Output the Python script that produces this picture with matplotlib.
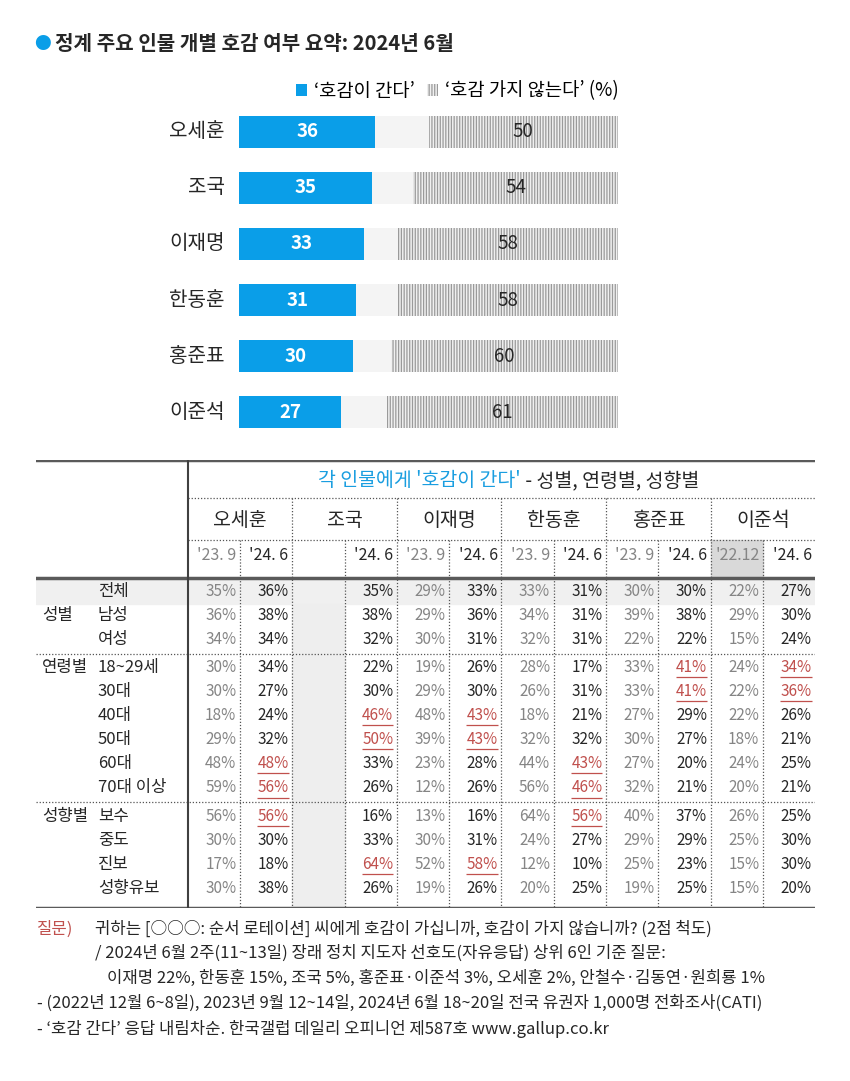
import matplotlib.pyplot as plt
from matplotlib.patches import Rectangle

plt.rcParams['font.family'] = ['Noto Sans CJK KR', 'DejaVu Sans']

W, H = 850, 1081

# 막대 그래프 데이터
names = ['오세훈', '조국', '이재명', '한동훈', '홍준표', '이준석']
like = [36, 35, 33, 31, 30, 27]
dislike = [50, 54, 58, 58, 60, 61]

# 표 데이터
col_dates = ["'23. 9", "'24. 6", "", "'24. 6", "'23. 9", "'24. 6",
             "'23. 9", "'24. 6", "'23. 9", "'24. 6", "'22.12", "'24. 6"]
col_recent = [False, True, False, True, False, True, False, True, False, True, False, True]
row_groups = ['', '성별', '', '연령별', '', '', '', '', '', '성향별', '', '', '']
row_labels = ['전체', '남성', '여성', '18~29세', '30대', '40대', '50대', '60대', '70대 이상',
              '보수', '중도', '진보', '성향유보']
row_block = [0, 0, 0, 1, 1, 1, 1, 1, 1, 2, 2, 2, 2]
table_vals = [
    [35, 36, None, 35, 29, 33, 33, 31, 30, 30, 22, 27],
    [36, 38, None, 38, 29, 36, 34, 31, 39, 38, 29, 30],
    [34, 34, None, 32, 30, 31, 32, 31, 22, 22, 15, 24],
    [30, 34, None, 22, 19, 26, 28, 17, 33, 41, 24, 34],
    [30, 27, None, 30, 29, 30, 26, 31, 33, 41, 22, 36],
    [18, 24, None, 46, 48, 43, 18, 21, 27, 29, 22, 26],
    [29, 32, None, 50, 39, 43, 32, 32, 30, 27, 18, 21],
    [48, 48, None, 33, 23, 28, 44, 43, 27, 20, 24, 25],
    [59, 56, None, 26, 12, 26, 56, 46, 32, 21, 20, 21],
    [56, 56, None, 16, 13, 16, 64, 56, 40, 37, 26, 25],
    [30, 30, None, 33, 30, 31, 24, 27, 29, 29, 25, 30],
    [17, 18, None, 64, 52, 58, 12, 10, 25, 23, 15, 30],
    [30, 38, None, 26, 19, 26, 20, 25, 19, 25, 15, 20],
]
highlight = [(3, 9), (3, 11), (4, 9), (4, 11), (5, 3), (5, 5), (6, 3), (6, 5),
             (7, 1), (7, 7), (8, 1), (8, 7), (9, 1), (9, 7), (11, 3), (11, 5)]

BLUE = '#0a9ee8'
DARK = '#262626'
GRAY = '#858585'
RED = '#c0504d'

plt.rcParams['hatch.linewidth'] = 0.9

fig = plt.figure(figsize=(W / 100, H / 100), dpi=100, facecolor='white')


def px_axes(left, top, right, bottom):
    return fig.add_axes([left / W, 1 - bottom / H, (right - left) / W, (bottom - top) / H])


# 제목
fig.text(42 / W, 1 - 44 / H, '●', color=BLUE, fontsize=12, ha='center', va='center')
fig.text(55 / W, 1 - 44 / H, '정계 주요 인물 개별 호감 여부 요약: 2024년 6월',
         fontsize=14.5, fontweight='bold', color=DARK, va='center')

# 막대 그래프
ax = px_axes(239, 104, 618, 440)
ypos = list(range(len(names)))
ax.barh(ypos, [100] * len(names), height=0.56, color='#f4f4f4')
b1 = ax.barh(ypos, like, height=0.56, color=BLUE, label="‘호감이 간다’")
b2 = ax.barh(ypos, dislike, left=[100 - d for d in dislike], height=0.56, color='#f0f0f0',
             edgecolor='#9a9a9a', hatch='||||||', linewidth=0, label="‘호감 가지 않는다’ (%)")
for i, (n, l, d) in enumerate(zip(names, like, dislike)):
    ax.text(-3.7, i, n, ha='right', va='center', fontsize=14.5, color=DARK)
    ax.text(l / 2, i, str(l), ha='center', va='center', fontsize=13.5, color='white', fontweight='bold')
    ax.text(100 - d / 2, i, str(d), ha='center', va='center', fontsize=13.5, color=DARK)
ax.set_xlim(0, 100)
ax.set_ylim(len(names) - 0.5, -0.5)
ax.axis('off')

fig.legend(handles=[b1, b2], loc='center right', bbox_to_anchor=(619 / W, 1 - 91 / H),
           ncol=2, frameon=False, fontsize=13.5, handlelength=0.6, handleheight=0.6,
           handletextpad=0.4, columnspacing=0.6, borderpad=0, borderaxespad=0)

# 표
tx = px_axes(36, 460.5, 815.3, 908)
tx.set_xlim(-2.9, 12)
tx.set_ylim(13.17, -5.46)
tx.axis('off')

ncol = len(col_dates)
ry = [r + 0.17 * b for r, b in enumerate(row_block)]
y_top, y_title, y_sep1, y_name, y_sep2, y_date, y_head = -5.46, -4.63, -3.88, -2.96, -2.17, -1.5, -0.58
y_bot = ry[-1] + 0.83
dot = (0, (1, 1.5))

# 음영
tx.axhspan(y_head, (ry[0] + ry[1]) / 2, color='#f0f0f0', zorder=0)
tx.add_patch(Rectangle((2, (ry[0] + ry[1]) / 2), 1, y_bot - (ry[0] + ry[1]) / 2,
                       color='#eeeeee', zorder=0))
tx.add_patch(Rectangle((10, y_sep2), 1, y_head - y_sep2, color='#d9d9d9', zorder=0))

# 선
tx.axhline(y_top, color='#5a5a5a', lw=2.5)
tx.axhline(y_head, color='#5a5a5a', lw=2.5)
tx.axhline(y_bot, color='#5a5a5a', lw=2.5)
tx.hlines([y_sep1, y_sep2], 0, ncol, color='#555555', lw=0.9, linestyles=dot)
tx.hlines([(ry[2] + ry[3]) / 2, (ry[8] + ry[9]) / 2], -2.9, ncol, color='#555555', lw=0.9, linestyles=dot)
tx.vlines(0, y_top, y_bot, color='#404040', lw=1.5)
tx.vlines([2, 4, 6, 8, 10], y_sep1, y_bot, color='#555555', lw=0.9, linestyles=dot)
tx.vlines([1, 3, 5, 7, 9, 11], y_sep2, y_bot, color='#555555', lw=0.9, linestyles=dot)

# 머리글
tx.text(6.37, y_title, "각 인물에게 '호감이 간다'", ha='right', va='center', fontsize=14, color='#1a9ee0')
tx.text(6.37, y_title, " - 성별, 연령별, 성향별", ha='left', va='center', fontsize=14, color=DARK)
for g, n in enumerate(names):
    tx.text(2 * g + 1, y_name, n, ha='center', va='center', fontsize=14, color=DARK)
for c, d in enumerate(col_dates):
    tx.text(c + 0.93, y_date, d, ha='right', va='center', fontsize=11.5,
            color=DARK if col_recent[c] else GRAY)

# 행 이름
for r, (g, lab) in enumerate(zip(row_groups, row_labels)):
    if g:
        tx.text(-2.79, ry[r], g, ha='left', va='center', fontsize=12, color=DARK)
    tx.text(-1.72, ry[r], lab, ha='left', va='center', fontsize=12, color=DARK)

# 값
for r, row in enumerate(table_vals):
    for c, v in enumerate(row):
        if v is None:
            continue
        color = DARK if col_recent[c] else GRAY
        if (r, c) in highlight:
            color = RED
            tx.hlines(ry[r] + 0.4, c + 0.33, c + 0.93, color=RED, lw=0.9)
        tx.text(c + 0.93, ry[r], f'{v}%', ha='right', va='center', fontsize=11, color=color)

# 주석
fs = 12
fig.text(37 / W, 1 - 929 / H, '질문)', color=RED, fontsize=fs, va='center')
fig.text(95 / W, 1 - 929 / H, '귀하는 [○○○: 순서 로테이션] 씨에게 호감이 가십니까, 호감이 가지 않습니까? (2점 척도)',
         color=DARK, fontsize=fs, va='center')
fig.text(95 / W, 1 - 953 / H, '/ 2024년 6월 2주(11~13일) 장래 정치 지도자 선호도(자유응답) 상위 6인 기준 질문:',
         color=DARK, fontsize=fs, va='center')
fig.text(107 / W, 1 - 978 / H, '이재명 22%, 한동훈 15%, 조국 5%, 홍준표·이준석 3%, 오세훈 2%, 안철수·김동연·원희룡 1%',
         color=DARK, fontsize=fs, va='center')
fig.text(37 / W, 1 - 1003 / H, '- (2022년 12월 6~8일), 2023년 9월 12~14일, 2024년 6월 18~20일 전국 유권자 1,000명 전화조사(CATI)',
         color=DARK, fontsize=fs, va='center')
fig.text(37 / W, 1 - 1029 / H, '- ‘호감 간다’ 응답 내림차순. 한국갤럽 데일리 오피니언 제587호 www.gallup.co.kr',
         color=DARK, fontsize=fs, va='center')

plt.savefig('out.png', dpi=100, facecolor='white')
